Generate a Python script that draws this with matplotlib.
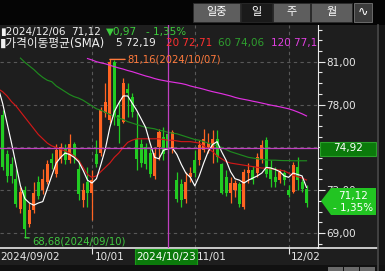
import numpy as np
import matplotlib
matplotlib.use("Agg")
import matplotlib.pyplot as plt
from matplotlib.patches import Rectangle, Polygon

plt.rcParams['font.family'] = ['DejaVu Sans', 'Noto Sans CJK KR']

W, H = 385, 271

# daily candles 2024/09/02 .. 2024/12/06
opens = [78.6, 77.3, 74.5, 73.8, 72.8, 70.7, 72.0, 69.6, 70.6, 72.6,
         72.0, 72.6, 74.2, 73.1, 74.2, 74.9, 74.1, 75.2, 73.5, 71.3,
         72.6, 71.8, 74.5, 74.6, 77.4, 76.9, 81.0, 77.3, 76.8, 79.1,
         78.55, 75.6, 75.2, 75.0, 74.6, 73.0, 75.05, 75.7, 75.9, 74.9,
         72.7, 72.4, 71.4, 72.9, 74.1, 74.1, 74.8, 75.0, 74.9, 75.6,
         73.8, 72.9, 71.8, 72.0, 72.4, 70.85, 73.2, 73.4, 73.2, 74.2,
         75.5, 73.6, 72.9, 72.7, 73.2, 72.0, 71.9, 73.6, 72.6, 72.1]
highs = [79.0, 77.6, 74.8, 74.3, 73.5, 72.2, 72.3, 71.1, 72.6, 73.0,
         73.5, 74.1, 74.6, 75.2, 75.3, 75.2, 75.9, 75.4, 74.1, 72.5,
         73.6, 73.4, 75.5, 77.85, 79.5, 81.16, 81.1, 78.3, 79.85, 79.5,
         78.8, 77.4, 75.6, 75.3, 75.0, 75.0, 76.3, 76.4, 76.2, 76.2,
         73.3, 72.8, 73.3, 73.6, 74.8, 75.5, 76.3, 76.0, 76.2, 76.2,
         73.9, 73.4, 72.9, 72.7, 72.6, 73.5, 73.9, 73.7, 74.6, 75.5,
         75.75, 74.1, 73.6, 73.5, 73.4, 72.35, 74.0, 74.3, 72.8, 72.35]
lows = [77.8, 73.4, 72.6, 72.5, 70.8, 70.4, 68.68, 69.4, 70.4, 71.4,
        71.7, 72.4, 73.5, 72.9, 73.9, 73.8, 73.9, 73.9, 71.3, 70.85,
        70.85, 69.9, 73.6, 74.4, 77.1, 76.7, 76.6, 75.3, 76.7, 77.1,
        77.1, 73.4, 73.6, 73.5, 72.9, 72.8, 74.1, 74.1, 74.6, 74.6,
        71.2, 70.85, 71.1, 72.6, 72.9, 73.75, 74.7, 74.6, 73.9, 74.0,
        71.7, 71.6, 71.1, 71.5, 70.85, 70.7, 72.5, 72.4, 72.9, 73.9,
        72.9, 72.2, 72.2, 72.5, 72.35, 71.5, 71.8, 72.0, 71.9, 70.85]
closes = [78.0, 73.6, 73.0, 73.0, 71.0, 71.9, 69.3, 70.6, 71.8, 71.6,
          72.8, 73.8, 73.9, 74.8, 75.0, 74.1, 75.2, 74.3, 71.7, 72.0,
          71.8, 72.7, 73.8, 77.6, 78.2, 81.0, 77.1, 76.5, 79.5, 78.8,
          77.5, 74.2, 73.9, 73.8, 73.1, 74.6, 76.1, 74.5, 74.8, 76.1,
          71.4, 71.3, 72.6, 73.2, 73.2, 75.15, 75.6, 75.3, 75.6, 74.3,
          71.8, 71.8, 72.5, 72.5, 71.0, 73.3, 73.4, 72.7, 74.35, 75.15,
          73.1, 72.8, 72.6, 73.3, 72.7, 71.65, 73.75, 72.7, 72.09, 71.12]

nan = np.nan
ma5 = [79.2, 78.1, 76.7, 75.3, 73.8, 72.3, 71.4, 71.1, 70.95, 71.1,
       71.2, 72.1, 73.0, 73.9, 74.3, 74.6, 74.5, 74.3, 74.0, 73.4,
       72.7, 72.5, 72.8, 73.8, 74.9, 76.4, 77.5, 78.1, 78.6, 78.6,
       78.1, 77.6, 77.0, 76.4, 75.3, 74.3, 74.2, 74.8, 74.9, 74.95,
       74.5, 73.8, 73.2, 72.9, 72.3, 73.0, 73.9, 74.7, 75.2, 75.4,
       74.7, 74.1, 73.3, 72.8, 72.7, 72.5, 72.7, 72.85, 73.0, 73.2,
       73.6, 73.55, 73.45, 73.3, 73.0, 72.9, 73.2, 73.1, 73.0, 72.19]
ma20 = [79.1, 78.9, 78.6, 78.2, 77.9, 77.5, 77.1, 76.7, 76.3, 75.9,
        75.6, 75.3, 75.1, 75.0, 74.85, 74.75, 74.6, 74.4, 74.1, 73.6,
        73.1, 72.9, 73.0, 73.3, 73.6, 73.9, 74.3, 74.6, 75.0, 75.35,
        75.5, 75.6, 75.6, 75.6, 75.6, 75.6, 75.6, 75.55, 75.5, 75.5,
        75.45, 75.4, 75.4, 75.4, 75.35, 75.3, 75.1, 74.9, 74.7, 74.4,
        74.2, 74.0, 73.9, 73.85, 73.8, 73.75, 73.7, 73.65, 73.6, 73.55,
        73.55, 73.5, 73.45, 73.4, 73.35, 73.2, 73.05, 72.95, 72.85, 72.71]
ma60 = [nan, nan, nan, nan, nan, 81.25, 80.95, 80.7, 80.45, 80.15,
        79.9, 79.7, 79.6, 79.3, 79.1, 78.9, 78.7, 78.55, 78.45, 78.3,
        78.1, 77.9, 77.7, 77.6, 77.45, 77.3, 77.2, 77.05, 76.95, 76.8,
        76.7, 76.6, 76.5, 76.4, 76.35, 76.3, 76.2, 76.15, 76.05, 76.0,
        75.95, 75.85, 75.75, 75.65, 75.55, 75.5, 75.4, 75.3, 75.2, 75.1,
        75.0, 74.85, 74.7, 74.6, 74.5, 74.4, 74.3, 74.25, 74.2, 74.15,
        74.12, 74.1, 74.1, 74.08, 74.07, 74.07, 74.06, 74.06, 74.06, 74.06]
ma120 = [nan] * 20 + [
        81.22, 81.12, 81.0, 80.92, 80.85, 80.75, 80.65, 80.56, 80.48, 80.38,
        80.3, 80.2, 80.1, 80.0, 79.92, 79.82, 79.74, 79.68, 79.62, 79.57,
        79.52, 79.47, 79.4, 79.3, 79.22, 79.15, 79.07, 78.98, 78.9, 78.83,
        78.76, 78.68, 78.6, 78.5, 78.42, 78.36, 78.3, 78.23, 78.17, 78.1,
        78.03, 77.96, 77.9, 77.84, 77.77, 77.7, 77.6, 77.48, 77.35, 77.2]

month_idx = [0, 21, 44, 65]
month_labels = ['2024/09/02', '10/01', '11/01', '12/02']
price_ticks = [69, 72, 75, 78, 81]
hidden_ticks = [75]          # covered by the cursor price box
cross_idx, cross_price, cross_date = 38, 74.92, '2024/10/23'
hi_idx, lo_idx = 25, 6

UP, DOWN = '#ff6422', '#22cc22'
BG = '#1e1e1e'


def fx(x):
    return x / W


def fy(y):
    return 1 - y / H


fig = plt.figure(figsize=(W / 100, H / 100), dpi=100)
fig.patch.set_facecolor(BG)

ax = fig.add_axes([0, fy(247.7), fx(318), (247.7 - 25) / H])
ax.set_facecolor(BG)
ax.set_xlim(0.425, 71.57)
ax.set_ylim(67.97, 83.57)

for y in price_ticks:
    ax.axhline(y, color='#585858', lw=0.8, ls=(0, (3, 3)), zorder=1)
for i in month_idx[1:]:
    ax.axvline(i, color='#585858', lw=0.8, ls=(0, (3, 3)), zorder=1)

x = np.arange(len(closes))
o, h, l, c = map(np.array, (opens, highs, lows, closes))
cols = [UP if c[k] >= o[k] else DOWN for k in range(len(c))]
ax.vlines(x, l, h, colors=cols, lw=0.9, zorder=3)
ax.bar(x, np.maximum(np.abs(c - o), 0.06), bottom=np.minimum(o, c),
       width=0.68, color=cols, lw=0, zorder=4)

ax.plot(x, ma120, color='#e030e0', lw=0.85, zorder=5)
ax.plot(x, ma60, color='#1f8a1f', lw=0.85, zorder=5)
ax.plot(x, ma20, color='#d01818', lw=0.85, zorder=5)
ax.plot(x, ma5, color='#ffffff', lw=0.85, zorder=6)

# crosshair
ax.axvline(cross_idx, color='#c040c0', lw=0.9, zorder=7)
ax.axhline(cross_price, color='#c040c0', lw=0.9, zorder=7)

# high / low marks
ax.annotate('81,16(2024/10/07)', xy=(hi_idx, highs[hi_idx]), xytext=(18, 0),
            textcoords='offset pixels', color='#ff7a3c', fontsize=7.2,
            va='center', ha='left', zorder=8,
            arrowprops=dict(arrowstyle='-', color='#ff7a3c', lw=1.0,
                            shrinkA=0, shrinkB=0))
ax.annotate('68,68(2024/09/10)', xy=(lo_idx, lows[lo_idx]), xytext=(7, -4),
            textcoords='offset pixels', color='#40c840', fontsize=7.2,
            va='center', ha='left', zorder=8,
            arrowprops=dict(arrowstyle='-', color='#40c840', lw=1.0,
                            shrinkA=0, shrinkB=0))

# right price axis
ax.yaxis.tick_right()
ax.set_yticks(price_ticks)
ax.set_yticklabels(['' if p in hidden_ticks else ('%.2f' % p).replace('.', ',')
                    for p in price_ticks])
ax.set_yticks(np.arange(68.25, 83.5, 0.75), minor=True)
ax.tick_params(axis='y', which='major', colors='#e8e8e8', labelsize=7.5,
               length=5, width=0.8, pad=1)
ax.tick_params(axis='y', which='minor', colors='#e8e8e8', length=3, width=0.8)
ax.set_xticks(month_idx[1:])
ax.set_xticklabels([])
ax.tick_params(axis='x', colors='#e8e8e8', length=4, width=0.8)
for s in ['top', 'left']:
    ax.spines[s].set_visible(False)
ax.spines['right'].set_color('#e8e8e8')
ax.spines['bottom'].set_color('#e8e8e8')
ax.spines['bottom'].set_linewidth(1.2)

# bottom line into axis area
fig.add_artist(plt.Line2D([fx(318), fx(377)], [fy(247.7), fy(247.7)],
                          color='#e8e8e8', lw=1.2))

# date labels
for i, lab in zip(month_idx, month_labels):
    px = max(-1.9 + 4.47 * i + 2.5, 0)
    fig.text(fx(px), fy(257), lab, color='#e8e8e8', fontsize=7.5,
             ha='left', va='center')
fig.add_artist(Rectangle((fx(135), fy(265)), fx(62), 16 / H,
                         facecolor='#0b7a0b', edgecolor='#1a9a1a', lw=0.8))
fig.text(fx(166), fy(257), cross_date, color='white', fontsize=7.5,
         ha='center', va='center')

# price boxes
fig.add_artist(Rectangle((fx(320), fy(155.5)), fx(56), 14 / H,
                         facecolor='#0b7a0b', edgecolor='#2aa02a', lw=0.8))
fig.text(fx(348), fy(148.5), ('%.2f' % cross_price).replace('.', ','),
         color='white', fontsize=7.5, ha='center', va='center')
chg = closes[-1] - closes[-2]
pct = chg / closes[-2] * 100
fig.add_artist(Polygon([(fx(321), fy(201)), (fx(331), fy(188)),
                        (fx(376), fy(188)), (fx(376), fy(215)),
                        (fx(331), fy(215))], closed=True,
                       facecolor='#22c422', edgecolor='none'))
fig.text(fx(353), fy(195.5), ('%.2f' % closes[-1]).replace('.', ','),
         color='white', fontsize=7.5, ha='center', va='center')
fig.text(fx(353), fy(207.5), ('- %.2f%%' % abs(pct)).replace('.', ','),
         color='white', fontsize=7.5, ha='center', va='center')

# right panel edge and scroll bar
fig.add_artist(Rectangle((fx(377), 0), fx(8), 1, facecolor='#141414',
                         edgecolor='none'))
fig.add_artist(plt.Line2D([fx(377.5), fx(377.5)], [0, fy(25)],
                          color='#4a4a4a', lw=1.2))
fig.add_artist(Rectangle((0, 0), 1, 6 / H, facecolor='#111111',
                         edgecolor='none'))
for bx in [328, 344, 360]:
    fig.add_artist(Rectangle((fx(bx), 0), fx(15), 4 / H,
                             facecolor='#6a6a6a', edgecolor='none'))

# header
fig.add_artist(Rectangle((0, fy(25)), 1, 25 / H, facecolor='#050505',
                         edgecolor='none'))
buttons = [('일중', 193, 240, '#5e5e5e'), ('일', 241, 272, '#1a1a1a'),
           ('주', 273, 310, '#5e5e5e'), ('월', 311, 352, '#5e5e5e')]
for lab, x0, x1, fc in buttons:
    fig.add_artist(Rectangle((fx(x0), fy(22)), fx(x1 - x0), 19 / H,
                             facecolor=fc, edgecolor='#2a2a2a', lw=0.6))
    fig.text(fx((x0 + x1) / 2), fy(12.5), lab, color='white', fontsize=8,
             ha='center', va='center', family='Noto Sans CJK KR')
fig.add_artist(Rectangle((fx(354), fy(22)), fx(18), 19 / H,
                         facecolor='#3c3c3c', edgecolor='#777777', lw=0.6))
fig.text(fx(363), fy(12.5), '∿', color='white', fontsize=9,
         ha='center', va='center')


# legend lines
def legend_text(xp, yp, s, color, size=7.5):
    t = fig.text(fx(xp), fy(yp), s, color=color, fontsize=size,
                 ha='left', va='center')
    t.set_clip_box(ax.bbox)
    t.set_clip_on(True)


legend_text(0, 32, '▮2024/12/06', '#f0f0f0')
legend_text(71, 32, '71,12', '#f0f0f0')
legend_text(106, 32, '▼0,97', '#3ccc3c')
legend_text(146, 32, '- 1,35%', '#3ccc3c')
legend_text(0, 43.5, '▮가격이동평균(SMA)', '#f0f0f0', 8.4)
legend_text(116, 43.5, '5 72,19', '#f0f0f0')
legend_text(166, 43.5, '20 72,71', '#ff3030')
legend_text(218, 43.5, '60 74,06', '#2e9e2e')
legend_text(271, 43.5, '120 77,17', '#e040e0')

fig.savefig('out.png', dpi=100, facecolor=fig.get_facecolor())
